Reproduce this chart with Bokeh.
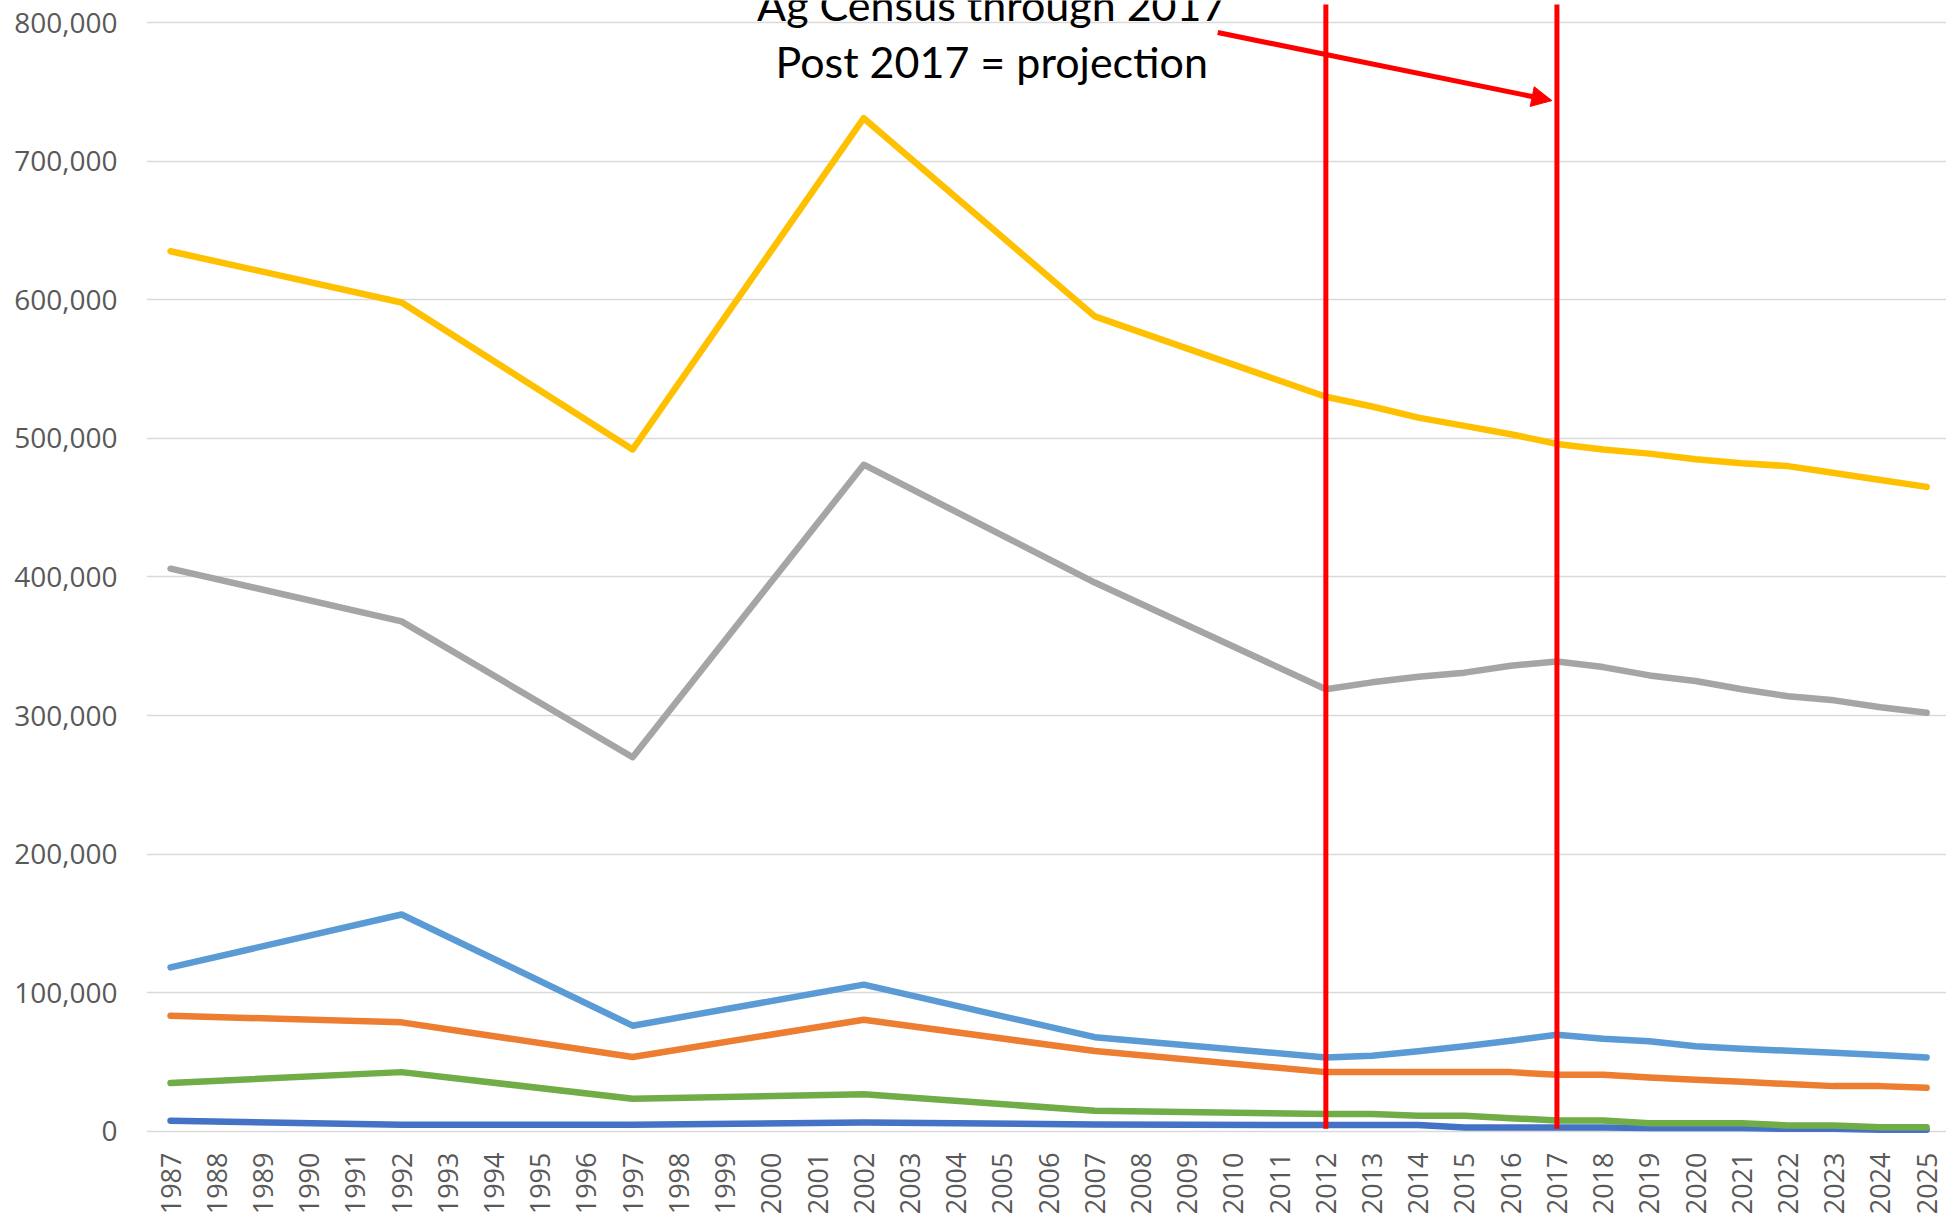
from bokeh.plotting import figure
from bokeh.models import (Range1d, FixedTicker, NumeralTickFormatter, Arrow,
                          NormalHead, Label, ColumnDataSource)
from bokeh.embed import file_html
from bokeh.resources import INLINE
import math

# ---------------- data ----------------
all_years = list(range(1987, 2026))          # tick labels
data_years = [1987, 1992, 1997, 2002, 2007] + list(range(2012, 2026))

s_darkblue = [7700, 4800, 4800, 6500, 5000, 4600, 4600, 4600, 2900, 2900, 2900,
              2900, 2400, 2400, 2400, 1900, 1900, 1200, 1200]
s_orange = [83500, 78700, 53700, 80600, 58000, 42800, 42800, 42800, 42800, 42800,
            40900, 40900, 39000, 37300, 35900, 34200, 32700, 32700, 31500]
s_gray = [406000, 368000, 270000, 481000, 396000, 319000, 324000, 328000, 331000,
          336000, 339000, 335000, 329000, 325000, 319000, 314000, 311000, 306000, 302000]
s_yellow = [635000, 598000, 492000, 731000, 588000, 530000, 523000, 515000, 509000,
            503000, 496000, 492000, 489000, 485000, 482000, 480000, 475000, 470000, 465000]
s_lightblue = [118400, 156500, 76300, 105900, 68000, 53400, 54600, 57800, 61400,
               65500, 69800, 66900, 65000, 61400, 59700, 58200, 56800, 55100, 53400]
s_green = [34900, 42800, 23600, 26900, 14900, 12600, 12600, 11300, 11300, 9600,
           7900, 7900, 6000, 6000, 6000, 4300, 4300, 3100, 3100]

series = [
    (s_darkblue, "#4472C4"),
    (s_orange, "#ED7D31"),
    (s_gray, "#A5A5A5"),
    (s_yellow, "#FFC000"),
    (s_lightblue, "#5B9BD5"),
    (s_green, "#70AD47"),
]

y_ticks = [0, 100000, 200000, 300000, 400000, 500000, 600000, 700000, 800000]
marker_years = [2012, 2017]
note_lines = ["Ag Census through 2017", "Post 2017 = projection"]

# ---------------- figure ----------------
Y_END = 815900
Y_START = -2200

p = figure(width=1946, height=1217, output_backend="svg", toolbar_location=None,
           x_range=Range1d(1986.48, 2025.43), y_range=Range1d(Y_START, Y_END),
           min_border_left=146, min_border_right=0, min_border_top=0,
           min_border_bottom=0)
p.outline_line_color = None
p.background_fill_color = "white"
p.border_fill_color = "white"

p.xgrid.grid_line_color = None
p.ygrid.grid_line_color = "#D9D9D9"
p.ygrid.grid_line_width = 1.5
p.ygrid.ticker = FixedTicker(ticks=y_ticks)

p.yaxis.ticker = FixedTicker(ticks=y_ticks)
p.yaxis.formatter = NumeralTickFormatter(format="0,0")
p.yaxis.axis_line_color = None
p.yaxis.major_tick_line_color = None
p.yaxis.minor_tick_line_color = None
p.yaxis.major_tick_out = 0
p.yaxis.major_tick_in = 0
p.yaxis.minor_tick_out = 0
p.yaxis.major_label_standoff = 29
p.yaxis.major_label_text_font = "Open Sans"
p.yaxis.major_label_text_font_size = "28px"
p.yaxis.major_label_text_color = "#595959"

p.xaxis.ticker = FixedTicker(ticks=all_years)
p.xaxis.formatter = NumeralTickFormatter(format="0")
p.xaxis.axis_line_color = None
p.xaxis.major_tick_line_color = None
p.xaxis.minor_tick_line_color = None
p.xaxis.major_tick_out = 0
p.xaxis.major_tick_in = 0
p.xaxis.minor_tick_out = 0
p.xaxis.major_label_orientation = math.pi / 2
p.xaxis.major_label_standoff = 18
p.xaxis.major_label_text_font = "Open Sans"
p.xaxis.major_label_text_font_size = "27px"
p.xaxis.major_label_text_color = "#595959"

for vals, col in series:
    src = ColumnDataSource(dict(x=data_years, y=vals))
    p.line("x", "y", source=src, line_color=col, line_width=6.5,
           line_cap="round", line_join="round")

# red vertical markers
p.segment(x0=marker_years, y0=[2000, 2000], x1=marker_years, y1=[813000, 813000],
          line_color="#FF0000", line_width=5)

# arrow
p.add_layout(Arrow(end=NormalHead(size=20, fill_color="#FF0000", line_color="#FF0000"),
                   x_start=2009.66, y_start=792800, x_end=2016.89, y_end=743700,
                   line_color="#FF0000", line_width=5))

# note text
p.add_layout(Label(x=2004.77, y=812900, text=note_lines[0], text_align="center",
                   text_baseline="alphabetic", text_font="Lato",
                   text_font_size="43px", text_color="black"))
p.add_layout(Label(x=2004.77, y=771800, text=note_lines[1], text_align="center",
                   text_baseline="alphabetic", text_font="Lato",
                   text_font_size="43px", text_color="black"))

open("out.html", "w").write(file_html(p, INLINE))
